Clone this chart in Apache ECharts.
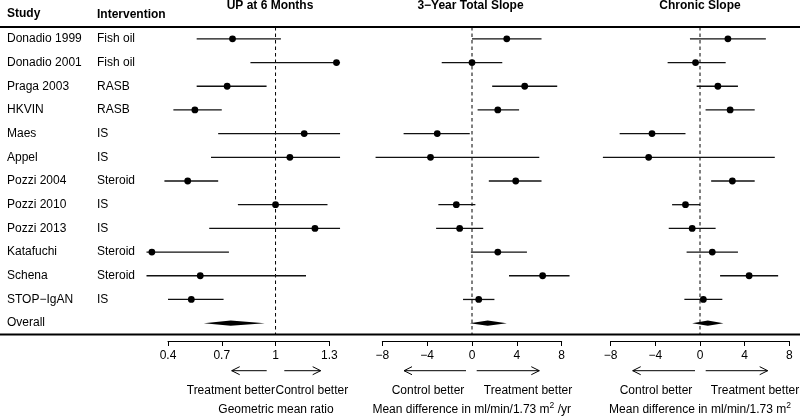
<!DOCTYPE html>
<html><head><meta charset="utf-8">
<script src="https://cdn.jsdelivr.net/npm/echarts@6/dist/echarts.min.js"></script>
<style>html,body{margin:0;padding:0;background:#fff}#c{width:800px;height:416px}</style>
</head><body><div id="c"></div>
<script>
const studies = ['Donadio 1999','Donadio 2001','Praga 2003','HKVIN','Maes','Appel','Pozzi 2004','Pozzi 2010','Pozzi 2013','Katafuchi','Schena','STOP\u2212IgAN','Overall'];
const interventions = ['Fish oil','Fish oil','RASB','RASB','IS','IS','Steroid','IS','IS','Steroid','Steroid','IS',''];

// UP at 6 months (geometric mean ratio)
const upEst = [0.76,1.34,0.73,0.55,1.16,1.08,0.51,1.00,1.22,0.31,0.58,0.53,0.75];
const upLo  = [0.56,0.86,0.56,0.43,0.68,0.64,0.38,0.79,0.63,0.28,0.28,0.40,0.60];
const upHi  = [1.03,1.36,0.95,0.70,1.36,1.36,0.68,1.29,1.36,0.74,1.17,0.71,0.94];
// 3-year total slope (mean difference)
const tsEst = [3.1,0.0,4.7,2.3,-3.1,-3.7,3.9,-1.4,-1.1,2.3,6.3,0.6,1.4];
const tsLo  = [0.0,-2.7,1.8,0.5,-6.1,-8.6,1.5,-3.0,-3.2,-0.1,3.3,-0.8,-0.2];
const tsHi  = [6.2,2.7,7.6,4.2,-0.2,6.0,6.2,0.3,1.0,4.9,8.7,2.0,3.1];
// Chronic slope (mean difference)
const csEst = [2.5,-0.4,1.6,2.7,-4.3,-4.6,2.9,-1.3,-0.7,1.1,4.4,0.3,0.7];
const csLo  = [-0.9,-2.9,-0.3,0.5,-7.2,-8.7,1.0,-2.5,-2.8,-1.2,1.8,-1.4,-0.7];
const csHi  = [5.9,2.3,3.4,4.9,-1.3,6.7,4.9,0.0,1.4,3.4,7.0,2.0,2.1];

const ticksUP = [0.4,0.7,1,1.3];
const ticksMD = [-8,-4,0,4,8];
const panelTitles = ['UP at 6 Months','3\u2212Year Total Slope','Chronic Slope'];
const refValues = [1,0,0];

const FONT = 'Liberation Sans, Arial, Helvetica, sans-serif';
const overallIdx = studies.length - 1;

function buildData(lo, est, hi){
  return studies.map((s,i)=>[lo[i], est[i], hi[i], i]);
}
function makeRender(ref){
  return function(params, api){
    const idx = api.value(3);
    const pLo = api.coord([api.value(0), idx]);
    const pEst = api.coord([api.value(1), idx]);
    const pHi = api.coord([api.value(2), idx]);
    const y = pEst[1];
    const children = [];
    if (idx === 0){
      const cs = params.coordSys;
      const rx = api.coord([ref, idx])[0];
      children.push({type:'line', shape:{x1:rx, y1:cs.y, x2:rx, y2:cs.y + cs.height},
        style:{stroke:'#000', lineWidth:1, lineDash:[3.5,3]}});
    }
    if (idx === overallIdx){
      const h = 2.6;
      children.push({type:'polygon', shape:{points:[[pLo[0],y],[pEst[0],y-h],[pHi[0],y],[pEst[0],y+h]]}, style:{fill:'#000'}});
    } else {
      children.push({type:'line', shape:{x1:pLo[0],y1:y,x2:pHi[0],y2:y}, style:{stroke:'#111', lineWidth:1.3}});
      children.push({type:'circle', shape:{cx:pEst[0],cy:y,r:3.4}, style:{fill:'#000'}});
    }
    return {type:'group', children:children};
  };
}
const minusFmt = v => String(v).replace('-', '\u2212');

const grids = [
  {left:168, width:161.3, top:27, height:308},
  {left:382.3, width:179.4, top:27, height:308},
  {left:610.7, width:178.6, top:27, height:308}
];
const ranges = [[0.4,1.3],[-8,8],[-8,8]];
const tickSets = [ticksUP, ticksMD, ticksMD];
const xAxes = grids.map((g,i)=>({
  type:'value', gridIndex:i, min:ranges[i][0], max:ranges[i][1], position:'bottom', offset:6,
  axisLine:{show:true, onZero:false, lineStyle:{color:'#000', width:1}},
  axisTick:{show:true, length:5, lineStyle:{color:'#000', width:1}, customValues:tickSets[i]},
  axisLabel:{show:true, margin:9, fontSize:12, fontFamily:FONT, color:'#000', customValues:tickSets[i], formatter:minusFmt},
  splitLine:{show:false}
}));
const yAxes = grids.map((g,i)=>({
  type:'category', gridIndex:i, data:studies, inverse:true,
  axisLine:{show:false}, axisTick:{show:false}, splitLine:{show:false},
  axisLabel: i===0 ? {
    show:true, margin:161, align:'left',
    formatter:(v, k)=>'{s|'+v+'}{t|'+interventions[k]+'}',
    rich:{s:{width:90, fontSize:12, fontFamily:FONT, color:'#000'}, t:{fontSize:12, fontFamily:FONT, color:'#000'}}
  } : {show:false}
}));
const dataSets = [buildData(upLo,upEst,upHi), buildData(tsLo,tsEst,tsHi), buildData(csLo,csEst,csHi)];
const series = dataSets.map((d,i)=>({
  type:'custom', xAxisIndex:i, yAxisIndex:i, clip:false, silent:true,
  dimensions:['lo','est','hi','row'],
  encode:{x:[0,1,2], y:3}, data:d, renderItem:makeRender(refValues[i]), z:3
}));

function txt(text, x, y, opt){
  opt = opt || {};
  return {type:'text', x:x, y:y, silent:true, style:Object.assign({text:text, fill:'#000', fontSize:12, fontFamily:FONT,
    fontWeight: opt.bold ? 'bold' : 'normal', textAlign: opt.align || 'center', textVerticalAlign:'middle'}, opt.extra || {})};
}
function arrow(x1, x2, y){
  const dir = x2 > x1 ? -1 : 1;
  return [
    {type:'line', silent:true, shape:{x1:x1,y1:y,x2:x2,y2:y}, style:{stroke:'#000', lineWidth:1}},
    {type:'polyline', silent:true, shape:{points:[[x2+dir*8,y-4],[x2,y],[x2+dir*8,y+4]]}, style:{stroke:'#000', lineWidth:1, fill:null}}
  ];
}
const supRich = {a:{fontSize:12, fontFamily:FONT, color:'#000'}, b:{fontSize:8.5, fontFamily:FONT, color:'#000', padding:[0,0,9,0]}};
const graphics = [
  {type:'line', silent:true, shape:{x1:0,y1:27,x2:800,y2:27}, style:{stroke:'#000', lineWidth:2}},
  {type:'line', silent:true, shape:{x1:0,y1:334.5,x2:800,y2:334.5}, style:{stroke:'#000', lineWidth:2}},
  txt('Study', 7, 14, {bold:true, align:'left'}),
  txt('Intervention', 97, 15, {bold:true, align:'left'}),
  txt(panelTitles[0], 270, 6, {bold:true}),
  txt(panelTitles[1], 470.5, 6, {bold:true}),
  txt(panelTitles[2], 700, 6, {bold:true}),
  ...arrow(266.7, 231.7, 370.7), ...arrow(284.3, 320.7, 370.7),
  ...arrow(466, 404, 370.7), ...arrow(476.7, 539.3, 370.7),
  ...arrow(695, 632.7, 370.7), ...arrow(705.7, 767.7, 370.7),
  txt('Treatment better', 275, 391, {align:'right'}),
  txt('Control better', 275.5, 391, {align:'left'}),
  txt('Control better', 428, 391), txt('Treatment better', 528, 391),
  txt('Control better', 656, 391), txt('Treatment better', 755, 391),
  txt('Geometric mean ratio', 276, 410),
  txt('{a|Mean difference in ml/min/1.73 m}{b|2}{a| /yr}', 471.7, 410, {extra:{rich:supRich}}),
  txt('{a|Mean difference in ml/min/1.73 m}{b|2}', 700, 410, {extra:{rich:supRich}})
];

const chart = echarts.init(document.getElementById('c'), null, {renderer:'canvas'});
chart.setOption({
  animation:false, backgroundColor:'#fff',
  textStyle:{fontFamily:FONT},
  grid:grids, xAxis:xAxes, yAxis:yAxes, series:series, graphic:graphics
});
</script></body></html>
